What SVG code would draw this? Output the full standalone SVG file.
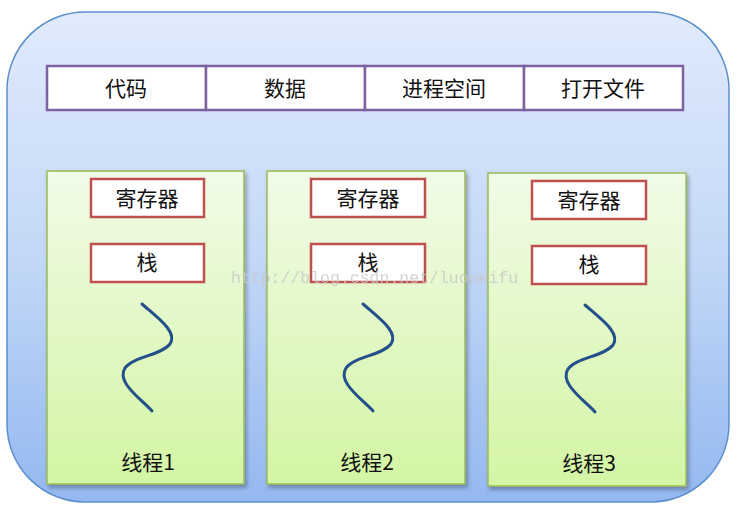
<svg xmlns="http://www.w3.org/2000/svg" width="745" height="525" viewBox="0 0 745 525">
<defs>
<linearGradient id="gOuter" x1="0" y1="0" x2="0" y2="1">
<stop offset="0" stop-color="#e0ebfc"/>
<stop offset="0.5" stop-color="#c3d8f7"/>
<stop offset="1" stop-color="#94b8f0"/>
</linearGradient>
<linearGradient id="gGreen" x1="0" y1="0" x2="0" y2="1">
<stop offset="0" stop-color="#f1fbe8"/>
<stop offset="1" stop-color="#d3f5a4"/>
</linearGradient>
<filter id="sh" x="-10%" y="-10%" width="125%" height="125%">
<feDropShadow dx="2" dy="3" stdDeviation="2" flood-color="#000" flood-opacity="0.3"/>
</filter>
</defs>
<style>
.cell{fill:#fff;stroke:#7f60a0;stroke-width:2.5}
.panel{fill:url(#gGreen);stroke:#9bbb59;stroke-width:1.5}
.reg{fill:#fff;stroke:#c0504d;stroke-width:2.5}
.t{font-family:"Noto Sans CJK SC","Noto Sans",sans-serif;font-size:21px;fill:#111;text-anchor:middle;dominant-baseline:central}
.wave{fill:none;stroke:#23508a;stroke-width:3;stroke-linecap:round}
.wm{font-family:"Liberation Mono",monospace;font-size:16.5px;fill:#c8c8c8;opacity:0.8}
</style>
<g id="process">
<rect x="7" y="12" width="722" height="490" rx="78" ry="78" fill="url(#gOuter)" stroke="#5b8fcb" stroke-width="1.5"/>
</g>
<g id="shared">
<rect class="cell" x="47" y="66" width="159" height="44"/>
<rect class="cell" x="206" y="66" width="159" height="44"/>
<rect class="cell" x="365" y="66" width="159" height="44"/>
<rect class="cell" x="524" y="66" width="159" height="44"/>
<text class="t" x="126" y="87">代码</text>
<text class="t" x="285" y="87">数据</text>
<text class="t" x="444" y="87">进程空间</text>
<text class="t" x="603" y="87">打开文件</text>
</g>
<g id="thread1">
<rect class="panel" x="47" y="171" width="197" height="313" filter="url(#sh)"/>
<rect class="reg" x="91" y="179" width="113" height="38"/>
<text class="t" x="147" y="197">寄存器</text>
<rect class="reg" x="91" y="244" width="113" height="38"/>
<text class="t" x="147" y="261">栈</text>
<path class="wave" d="M142,304 C158,318 178,332 170,344 C160,356 134,356 125,368 C116,382 140,398 152,411"/>
<text class="t" x="148" y="461">线程1</text>
</g>
<g id="thread2">
<rect class="panel" x="267" y="171" width="198" height="313" filter="url(#sh)"/>
<rect class="reg" x="311" y="179" width="114" height="38"/>
<text class="t" x="368" y="197">寄存器</text>
<rect class="reg" x="311" y="244" width="114" height="38"/>
<text class="t" x="368" y="261">栈</text>
<path class="wave" d="M363,304 C379,318 399,332 391,344 C381,356 355,356 346,368 C337,382 361,398 373,411"/>
<text class="t" x="367" y="461">线程2</text>
</g>
<g id="thread3">
<rect class="panel" x="488" y="173" width="198" height="313" filter="url(#sh)"/>
<rect class="reg" x="532" y="181" width="114" height="38"/>
<text class="t" x="589" y="199">寄存器</text>
<rect class="reg" x="532" y="246" width="114" height="38"/>
<text class="t" x="589" y="263">栈</text>
<path class="wave" d="M585,305 C601,319 621,333 613,345 C603,357 577,357 568,369 C559,383 583,399 595,412"/>
<text class="t" x="589" y="462">线程3</text>
</g>
<g id="connectors"></g>
<text class="wm" x="231" y="283">http://blog.csdn.net/luoweifu</text>
</svg>
